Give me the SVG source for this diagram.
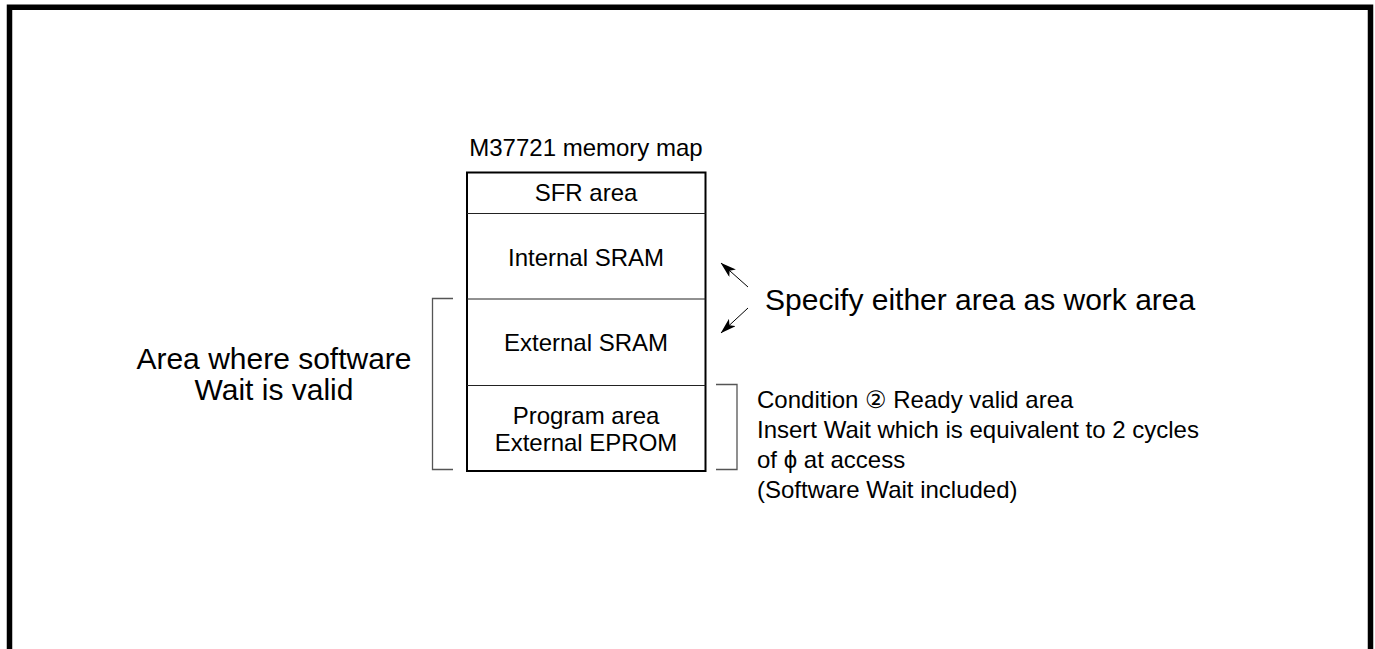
<svg xmlns="http://www.w3.org/2000/svg" width="1375" height="649" viewBox="0 0 1375 649">
<style>
text{font-family:"Liberation Sans","DejaVu Sans",Arial,sans-serif;fill:#000}
.box{fill:#fff;stroke:#000;stroke-width:2}
.div{stroke:#222;stroke-width:1;fill:none}
.br{stroke:#555;stroke-width:1.3;fill:none}
.ar{stroke:#000;stroke-width:1;fill:none;marker-end:url(#ah)}
.c{text-anchor:middle}
.cond{font-size:24px}
</style>
<defs>
<marker id="ah" viewBox="0 0 16 10" refX="15.5" refY="5" markerWidth="16" markerHeight="10" markerUnits="userSpaceOnUse" orient="auto">
<path d="M0,0 L16,5 L0,10 L4,5 Z" fill="#000"/>
</marker>
</defs>
<rect width="1375" height="649" fill="#fff"/>
<path d="M9.5,660 V7.3 H1370.5 V660" fill="none" stroke="#000" stroke-width="5.5"/>

<text x="586" y="156" class="c" font-size="24">M37721 memory map</text>

<g id="memory-map">
<rect class="box" x="467" y="172.5" width="238.5" height="298.5"/>
<line class="div" x1="467" y1="213.5" x2="705.5" y2="213.5"/>
<line class="div" x1="467" y1="299" x2="705.5" y2="299"/>
<line class="div" x1="467" y1="385.5" x2="705.5" y2="385.5"/>
</g>
<g id="sfr"><text x="586" y="201" class="c" font-size="24">SFR area</text></g>
<g id="internal-sram"><text x="586" y="265.5" class="c" font-size="24">Internal SRAM</text></g>
<g id="external-sram"><text x="586" y="351" class="c" font-size="24">External SRAM</text></g>
<g id="program-area">
<text x="586" y="424" class="c" font-size="24">Program area</text>
<text x="586" y="451" class="c" font-size="24">External EPROM</text>
</g>

<g id="left-bracket">
<path class="br" d="M453,298.5 H432.5 V469.5 H453"/>
<text x="274" y="369" class="c" font-size="30">Area where software</text>
<text x="274" y="400" class="c" font-size="30">Wait is valid</text>
</g>

<g id="right-bracket">
<path class="br" d="M716,384.5 H737 V469.5 H716"/>
<text x="757" y="408" class="cond">Condition ② Ready valid area</text>
<text x="757" y="438" class="cond">Insert Wait which is equivalent to 2 cycles</text>
<text x="757" y="468" class="cond">of ϕ at access</text>
<text x="757" y="498" class="cond">(Software Wait included)</text>
</g>

<g id="work-area-note">
<text x="765" y="310" font-size="30">Specify either area as work area</text>
</g>

<g id="connectors">
<line class="ar" x1="748" y1="287" x2="721" y2="263"/>
<line class="ar" x1="748" y1="308" x2="721" y2="333"/>
</g>
</svg>
